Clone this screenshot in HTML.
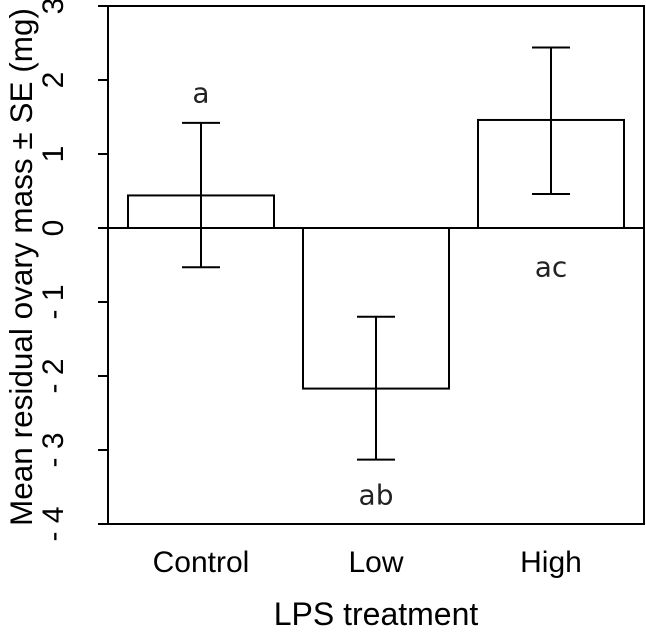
<!DOCTYPE html>
<html><head><meta charset="utf-8"><style>body{margin:0;background:#fff}svg{display:block;font-family:"Liberation Sans",sans-serif}</style></head>
<body>
<svg id="chart" width="646" height="635"></svg>
<script>
const categories=["Control","Low","High"];
const means=[0.44,-2.17,1.46];
const seUpper=[1.42,-1.2,2.44];
const seLower=[-0.53,-3.13,0.46];
const letters=["a","ab","ac"];
const letterPos=[1.83,-3.6,-0.52];
const yTicks=[3,2,1,0,-1,-2,-3,-4];
const tickLabels=["3","2","1","0","- 1","- 2","- 3","- 4"];
const NS="http://www.w3.org/2000/svg";
const svg=document.getElementById('chart');
const L=108,R=644,T=6,B=524;
const y=v=>T+(3-v)/7*(B-T);
const barX=[128,303,478],barW=146;
function mk(tag,attrs,text){const e=document.createElementNS(NS,tag);for(const k in attrs)e.setAttribute(k,attrs[k]);if(text!==undefined)e.textContent=text;svg.appendChild(e);return e;}
let e;
e=mk('rect',{x:L,y:T,width:R-L,height:B-T,fill:'none',stroke:'#000','stroke-width':2});


categories.forEach((c,i)=>{
  const y0=y(0),y1=y(means[i]);
  e=mk('rect',{x:barX[i],y:Math.min(y0,y1),width:barW,height:Math.abs(y1-y0),fill:'#fff',stroke:'#000','stroke-width':2});
  
  
  const cx=barX[i]+barW/2;
  e=mk('path',{d:`M${cx},${y(seUpper[i])}V${y(seLower[i])}M${cx-19},${y(seUpper[i])}H${cx+19}M${cx-19},${y(seLower[i])}H${cx+19}`,stroke:'#000','stroke-width':2,fill:'none'});
  
  
  e=mk('text',{x:cx,y:y(letterPos[i])+10,'text-anchor':'middle','font-size':28,fill:'#222','font-family':'DejaVu Sans, sans-serif'},letters[i]);
  
  
  e=mk('text',{x:cx,y:572,'text-anchor':'middle','font-size':30},c);
  
  
});
e=mk('line',{x1:98,x2:R,y1:y(0),y2:y(0),stroke:'#000','stroke-width':2});


yTicks.forEach((v,i)=>{
  e=mk('line',{x1:98,x2:L,y1:y(v),y2:y(v),stroke:'#000','stroke-width':2});
  
  
  e=mk('text',{x:0,y:0,transform:`translate(63,${y(v)}) rotate(-90)`,'text-anchor':'middle','font-size':30},tickLabels[i]);
  
  
});
e=mk('text',{x:376,y:625,'text-anchor':'middle','font-size':32},'LPS treatment');


e=mk('text',{x:0,y:0,transform:`translate(32,267) rotate(-90)`,'text-anchor':'middle','font-size':31.5},'Mean residual ovary mass ± SE (mg)');


</script>
</body></html>
